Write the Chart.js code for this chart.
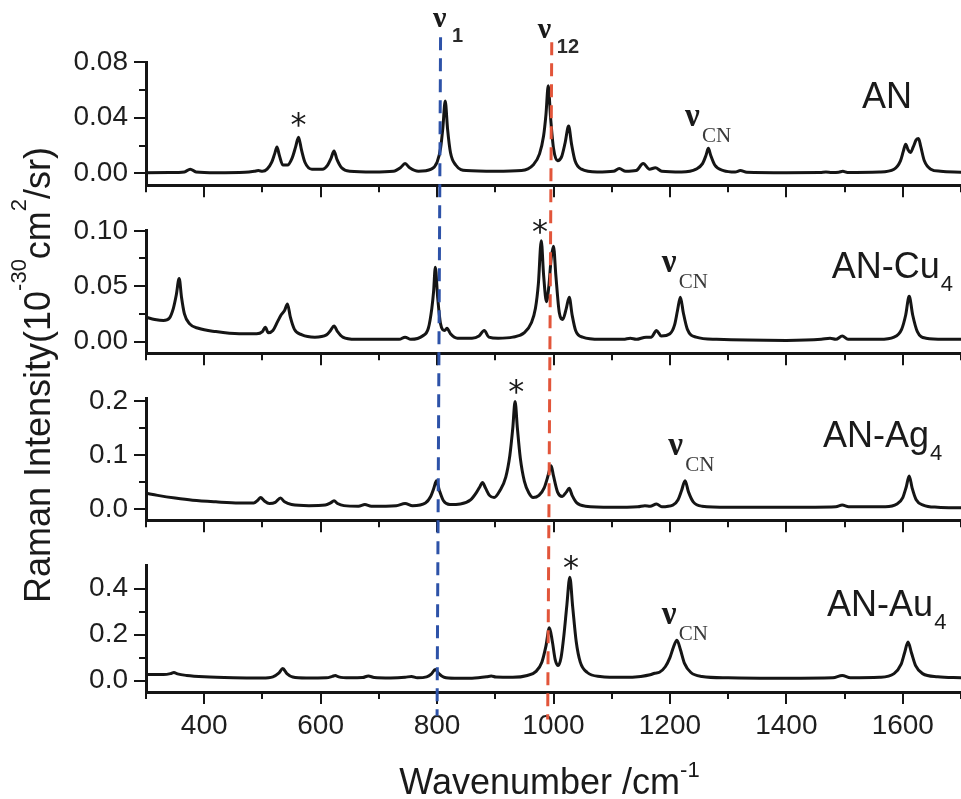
<!DOCTYPE html>
<html><head><meta charset="utf-8">
<script src="https://cdn.jsdelivr.net/npm/chart.js@4.4.1/dist/chart.umd.min.js"></script>
<style>
html,body{margin:0;padding:0;background:#fff;}
#wrap{position:relative;width:961px;height:799px;overflow:hidden;background:#fff;}
#wrap canvas{position:absolute;left:0;}
</style></head><body>
<div id="wrap">
<canvas id="c1" width="961" height="208" style="top:0px"></canvas>
<canvas id="c2" width="961" height="168" style="top:208px"></canvas>
<canvas id="c3" width="961" height="167" style="top:376px"></canvas>
<canvas id="c4" width="961" height="256" style="top:543px"></canvas>
<canvas id="ov" width="961" height="799" style="top:0px;pointer-events:none"></canvas>
</div>
<script>
// ---------------- data ----------------
const xTickValues = [400, 600, 800, 1000, 1200, 1400, 1600];
const xTickLabels = ['400', '600', '800', '1000', '1200', '1400', '1600'];
const xMinorValues = [300, 500, 700, 900, 1100, 1300, 1500, 1700];
const xRange = [300, 1700];

const seriesNames = ['AN', 'AN-Cu', 'AN-Ag', 'AN-Au'];
const seriesSubs = ['', '4', '4', '4'];

// AN
const anX = [300,340,366,376,386,420,470,486,493,500,508,516,521,525,529,535,543,551,557,562,567,573,585,603,612,618,623,628,636,650,690,725,737,745,753,768,790,800,806,810,814,818,823,832,850,900,945,965,976,983,987,991,995,1000,1007,1014,1020,1026,1031,1037,1048,1075,1103,1113,1124,1142,1154,1165,1175,1186,1220,1245,1256,1262,1266,1270,1277,1292,1312,1321,1332,1400,1458,1468,1478,1490,1497,1505,1560,1585,1596,1601,1605,1609,1613,1618,1623,1627,1631,1637,1648,1665,1700];
const anY = [0.0005,0.0006,0.001,0.003,0.001,0.0005,0.0008,0.0015,0.002,0.0015,0.003,0.008,0.014,0.019,0.013,0.006,0.006,0.011,0.019,0.026,0.017,0.008,0.003,0.003,0.006,0.011,0.016,0.010,0.004,0.0015,0.001,0.0015,0.004,0.007,0.004,0.0015,0.003,0.008,0.018,0.033,0.052,0.032,0.015,0.006,0.002,0.0015,0.002,0.006,0.014,0.027,0.042,0.063,0.040,0.018,0.009,0.012,0.022,0.034,0.021,0.009,0.003,0.001,0.0015,0.0035,0.0015,0.002,0.007,0.003,0.004,0.0015,0.001,0.003,0.007,0.013,0.018,0.013,0.006,0.002,0.001,0.002,0.0008,0.0005,0.0006,0.001,0.0006,0.0008,0.0015,0.0007,0.001,0.003,0.009,0.016,0.021,0.017,0.015,0.019,0.024,0.025,0.019,0.009,0.003,0.0015,0.0008];

// AN-Cu4
const cuX = [300,315,330,340,347,352,357,361,366,375,390,420,460,490,500,505,510,518,526,532,538,543,548,555,568,590,610,617,623,629,638,660,700,735,745,755,775,785,791,794,797,801,806,813,817,823,835,860,872,881,889,905,930,950,962,969,974,979,983,988,992,996,1000,1004,1010,1016,1022,1027,1032,1038,1050,1080,1120,1132,1142,1159,1168,1177,1185,1200,1208,1213,1218,1223,1230,1245,1280,1400,1460,1475,1485,1496,1506,1560,1585,1598,1605,1611,1617,1625,1640,1670,1700];
const cuY = [0.022,0.020,0.019,0.021,0.030,0.042,0.057,0.040,0.025,0.016,0.012,0.009,0.007,0.007,0.009,0.013,0.008,0.010,0.018,0.024,0.028,0.034,0.022,0.011,0.006,0.004,0.006,0.010,0.014,0.009,0.004,0.002,0.002,0.002,0.004,0.002,0.005,0.012,0.030,0.045,0.067,0.040,0.016,0.010,0.012,0.007,0.003,0.003,0.005,0.010,0.004,0.003,0.004,0.008,0.017,0.030,0.052,0.091,0.060,0.036,0.050,0.075,0.086,0.060,0.026,0.020,0.030,0.040,0.024,0.010,0.004,0.002,0.002,0.003,0.002,0.004,0.004,0.010,0.005,0.007,0.015,0.028,0.040,0.026,0.011,0.004,0.002,0.001,0.002,0.003,0.002,0.005,0.002,0.002,0.004,0.011,0.024,0.041,0.024,0.009,0.003,0.002,0.002];

// AN-Ag4
const agX = [300,320,350,380,420,460,485,492,497,503,512,522,531,538,550,580,608,617,623,629,640,665,676,687,730,745,758,780,789,794,799,804,811,822,840,858,868,874,878,883,890,898,908,918,925,930,934,938,943,950,958,965,975,984,990,993,996,1000,1007,1015,1022,1027,1032,1040,1055,1100,1145,1157,1166,1177,1186,1205,1214,1220,1226,1232,1240,1255,1300,1400,1485,1496,1507,1570,1590,1600,1606,1611,1616,1623,1635,1660,1700];
const agY = [0.030,0.026,0.021,0.017,0.014,0.012,0.012,0.017,0.022,0.016,0.011,0.013,0.021,0.014,0.009,0.007,0.008,0.012,0.016,0.011,0.007,0.006,0.009,0.006,0.007,0.011,0.007,0.012,0.024,0.038,0.053,0.035,0.016,0.009,0.010,0.018,0.032,0.043,0.050,0.040,0.026,0.022,0.035,0.060,0.100,0.150,0.200,0.150,0.095,0.052,0.030,0.022,0.026,0.040,0.060,0.072,0.081,0.062,0.032,0.024,0.032,0.039,0.026,0.012,0.006,0.004,0.005,0.007,0.006,0.010,0.005,0.008,0.018,0.035,0.053,0.032,0.014,0.006,0.004,0.004,0.005,0.008,0.005,0.005,0.010,0.022,0.042,0.062,0.040,0.018,0.008,0.004,0.003];

// AN-Au4
const auX = [300,330,342,348,354,370,400,450,500,518,528,535,542,552,575,610,620,625,631,650,672,682,692,720,745,756,766,782,790,797,803,812,830,860,885,893,901,930,955,970,980,987,993,998,1003,1008,1013,1018,1023,1028,1033,1039,1046,1058,1080,1120,1150,1166,1174,1182,1192,1200,1206,1212,1218,1225,1236,1255,1300,1400,1480,1496,1510,1560,1585,1597,1603,1609,1615,1622,1634,1660,1700];
const auY = [0.026,0.026,0.030,0.035,0.029,0.022,0.016,0.012,0.011,0.016,0.032,0.052,0.030,0.015,0.011,0.012,0.018,0.022,0.016,0.012,0.013,0.020,0.013,0.011,0.014,0.018,0.012,0.016,0.028,0.048,0.030,0.014,0.010,0.010,0.016,0.020,0.015,0.014,0.022,0.040,0.080,0.150,0.230,0.170,0.090,0.065,0.100,0.200,0.330,0.450,0.320,0.170,0.080,0.035,0.018,0.014,0.018,0.025,0.032,0.036,0.060,0.100,0.145,0.176,0.135,0.075,0.035,0.018,0.012,0.010,0.012,0.022,0.012,0.014,0.030,0.070,0.120,0.168,0.120,0.065,0.030,0.016,0.012];

// y axes
const yRange1 = [-0.0085, 0.08], yTicks1 = [0, 0.04, 0.08], yLabels1 = ['0.00', '0.04', '0.08'], yMinor1 = [0.02, 0.06];
const yRange2 = [-0.0105, 0.10], yTicks2 = [0, 0.05, 0.10], yLabels2 = ['0.00', '0.05', '0.10'], yMinor2 = [0.025, 0.075];
const yRange3 = [-0.02, 0.205], yTicks3 = [0, 0.1, 0.2], yLabels3 = ['0.0', '0.1', '0.2'], yMinor3 = [0.05, 0.15];
const yRange4 = [-0.05, 0.5], yTicks4 = [0, 0.2, 0.4], yLabels4 = ['0.0', '0.2', '0.4'], yMinor4 = [0.1, 0.3];

// annotations (data coordinates of each panel)
const nameAnchorX = [1530, 1478, 1463, 1470];
const nameAnchorY = [0.0467, 0.0574, 0.1157, 0.281];
const cnAnchorX = [1226, 1186, 1197, 1186];
const cnAnchorY = [0.034, 0.0626, 0.1014, 0.2465];
const starX = [562, 977, 936, 1030];
const starY = [0.0389, 0.1043, 0.2282, 0.513];
const modeNames = ['1', '12'];
const modeAnchorX = [793, 973];
const modeAnchorY = [0.1048, 0.097];
// reference dashed lines: wavenumber at top / bottom end
const refTopX = [806, 997];
const refBotX = [800, 990];
const refTopY = [0.0977, 0.0942];   // panel 1 scale
const refBotY = [-0.153, -0.170];   // panel 4 scale
const refColors = ['#2d52a8', '#e2553a'];

const yTitleParts = [['Raman Intensity(10', 0], ['-30', 1], ['cm', 0], ['2', 1], ['/sr)', 0]];
const xTitleParts = [['Wavenumber /cm', 0], ['-1', 1]];

// ---------------- layout ----------------
const INK = '#151515';
const SANS = "'Liberation Sans', Arial, Helvetica, sans-serif";
const SERIF = "'Liberation Serif', 'Times New Roman', serif";
const canvasTops = [0, 208, 376, 543];
const padTop = [62, 21, 21, 21];
const xAxisH = [21, 20, 20, 107];

const panels = [
  {x: anX, y: anY, range: yRange1, ticks: yTicks1, labels: yLabels1, minor: yMinor1},
  {x: cuX, y: cuY, range: yRange2, ticks: yTicks2, labels: yLabels2, minor: yMinor2},
  {x: agX, y: agY, range: yRange3, ticks: yTicks3, labels: yLabels3, minor: yMinor3},
  {x: auX, y: auY, range: yRange4, ticks: yTicks4, labels: yLabels4, minor: yMinor4}
];

const minorTickPlugin = {
  id: 'minorTicks',
  afterDraw(chart, args, opts) {
    const ctx = chart.ctx, xs = chart.scales.x, ys = chart.scales.y, a = chart.chartArea;
    ctx.save();
    ctx.strokeStyle = INK; ctx.lineWidth = 2;
    ctx.beginPath();
    opts.xMinor.forEach(v => { const p = Math.round(xs.getPixelForValue(v)); ctx.moveTo(p, a.bottom); ctx.lineTo(p, a.bottom + 7); });
    opts.yMinor.forEach(v => { const p = Math.round(ys.getPixelForValue(v)); ctx.moveTo(a.left, p); ctx.lineTo(a.left - 7, p); });
    ctx.stroke();
    ctx.restore();
  }
};

const charts = [];
panels.forEach((p, i) => {
  const ch = new Chart(document.getElementById('c' + (i + 1)), {
    type: 'line',
    data: { datasets: [{
      data: p.x.map((xv, k) => ({x: xv, y: p.y[k]})),
      borderColor: INK, borderWidth: 3, pointRadius: 0, fill: false,
      cubicInterpolationMode: 'monotone', borderJoinStyle: 'round', borderCapStyle: 'round'
    }]},
    options: {
      responsive: false, animation: false, events: [],
      layout: { padding: { top: padTop[i], left: 0, right: 0, bottom: 0 } },
      plugins: { legend: {display: false}, tooltip: {enabled: false}, minorTicks: {xMinor: xMinorValues, yMinor: p.minor} },
      scales: {
        x: {
          type: 'linear', min: xRange[0], max: xRange[1],
          afterBuildTicks: s => { s.ticks = xTickValues.map(v => ({value: v})); },
          afterFit: s => { s.height = xAxisH[i]; },
          grid: { drawOnChartArea: false, drawTicks: true, tickLength: 12, lineWidth: 2, color: INK },
          border: { display: true, width: 3, color: INK },
          ticks: { display: i === 3, autoSkip: false, maxRotation: 0, callback: (v, idx) => xTickLabels[idx],
                   font: {family: SANS, size: 28}, color: '#1e1e1e', padding: 5 }
        },
        y: {
          type: 'linear', min: p.range[0], max: p.range[1],
          afterBuildTicks: s => { s.ticks = p.ticks.map(v => ({value: v})); },
          afterFit: s => { s.width = 146; },
          grid: { drawOnChartArea: false, drawTicks: true, tickLength: 12, lineWidth: 2, color: INK },
          border: { display: true, width: 3, color: INK },
          ticks: { callback: (v, idx) => p.labels[idx], font: {family: SANS, size: 28}, color: '#1e1e1e', padding: 6 }
        }
      }
    },
    plugins: [minorTickPlugin]
  });
  charts.push(ch);
});

// ---------------- overlay ----------------
function drawOverlay() {
  const ctx = document.getElementById('ov').getContext('2d');
  const PX = (i, v) => charts[i].scales.x.getPixelForValue(v);
  const PY = (i, v) => canvasTops[i] + charts[i].scales.y.getPixelForValue(v);

  // dashed reference lines
  ctx.save();
  ctx.lineWidth = 3; ctx.setLineDash([13, 8]);
  refTopX.forEach((tx, k) => {
    ctx.strokeStyle = refColors[k];
    ctx.beginPath();
    ctx.moveTo(PX(0, tx), PY(0, refTopY[k]));
    ctx.lineTo(PX(3, refBotX[k]), PY(3, refBotY[k]));
    ctx.stroke();
  });
  ctx.restore();

  ctx.fillStyle = '#1a1a1a';
  ctx.textBaseline = 'alphabetic'; ctx.textAlign = 'left';

  // panel names
  seriesNames.forEach((nm, i) => {
    const x = PX(i, nameAnchorX[i]), y = PY(i, nameAnchorY[i]);
    ctx.font = '36px ' + SANS;
    ctx.fillText(nm, x, y);
    const w = ctx.measureText(nm).width;
    if (seriesSubs[i]) { ctx.font = '22px ' + SANS; ctx.fillText(seriesSubs[i], x + w + 1, y + 13); }
  });

  // nu_CN labels
  cnAnchorX.forEach((cx, i) => {
    const x = PX(i, cx), y = PY(i, cnAnchorY[i]);
    ctx.fillStyle = '#1a1a1a';
    ctx.font = 'bold 33px ' + SERIF; ctx.fillText('\u03BD', x, y);
    ctx.fillStyle = '#3a3a3a';
    ctx.font = '21px ' + SERIF; ctx.fillText('CN', x + 17, y + 16);
  });

  // asterisks
  ctx.fillStyle = '#1a1a1a';
  starX.forEach((sx, i) => {
    const x = PX(i, sx), c = PY(i, starY[i]);
    ctx.font = '32px ' + "'DejaVu Sans', sans-serif";
    ctx.textAlign = 'center';
    const m = ctx.measureText('*');
    const base = c + (m.actualBoundingBoxAscent - m.actualBoundingBoxDescent) / 2;
    ctx.fillText('*', x, base);
  });
  ctx.textAlign = 'left';

  // mode labels nu1 / nu12
  modeNames.forEach((mn, k) => {
    const x = PX(0, modeAnchorX[k]), y = PY(0, modeAnchorY[k]);
    ctx.fillStyle = '#1a1a1a';
    ctx.font = 'bold 30px ' + SERIF; ctx.fillText('\u03BD', x, y);
    ctx.fillStyle = '#2a2a2a';
    ctx.font = 'bold 20px ' + SANS; ctx.fillText(mn, x + 19, y + 15);
  });

  // x title
  const a4 = charts[3].chartArea;
  ctx.fillStyle = '#1a1a1a';
  const fontOf = sup => sup ? '22px ' + SANS : '36px ' + SANS;
  let tw = 0;
  xTitleParts.forEach(([t, s]) => { ctx.font = fontOf(s); tw += ctx.measureText(t).width; });
  let cx = (a4.left + a4.right) / 2 - 4 - tw / 2;
  const xb = 794;
  xTitleParts.forEach(([t, s]) => { ctx.font = fontOf(s); ctx.fillText(t, cx, s ? xb - 17 : xb); cx += ctx.measureText(t).width; });

  // y title (rotated)
  let th = 0;
  yTitleParts.forEach(([t, s]) => { ctx.font = fontOf(s); th += ctx.measureText(t).width; });
  const top1 = canvasTops[0] + charts[0].chartArea.top, bot4 = canvasTops[3] + charts[3].chartArea.bottom;
  const cy = (top1 + bot4) / 2 - 2;
  ctx.save();
  ctx.translate(50, cy);
  ctx.rotate(-Math.PI / 2);
  let ux = -th / 2;
  yTitleParts.forEach(([t, s]) => { ctx.font = fontOf(s); ctx.fillText(t, ux, s ? -24 : 0); ux += ctx.measureText(t).width; });
  ctx.restore();
}
drawOverlay();
</script>
</body></html>
